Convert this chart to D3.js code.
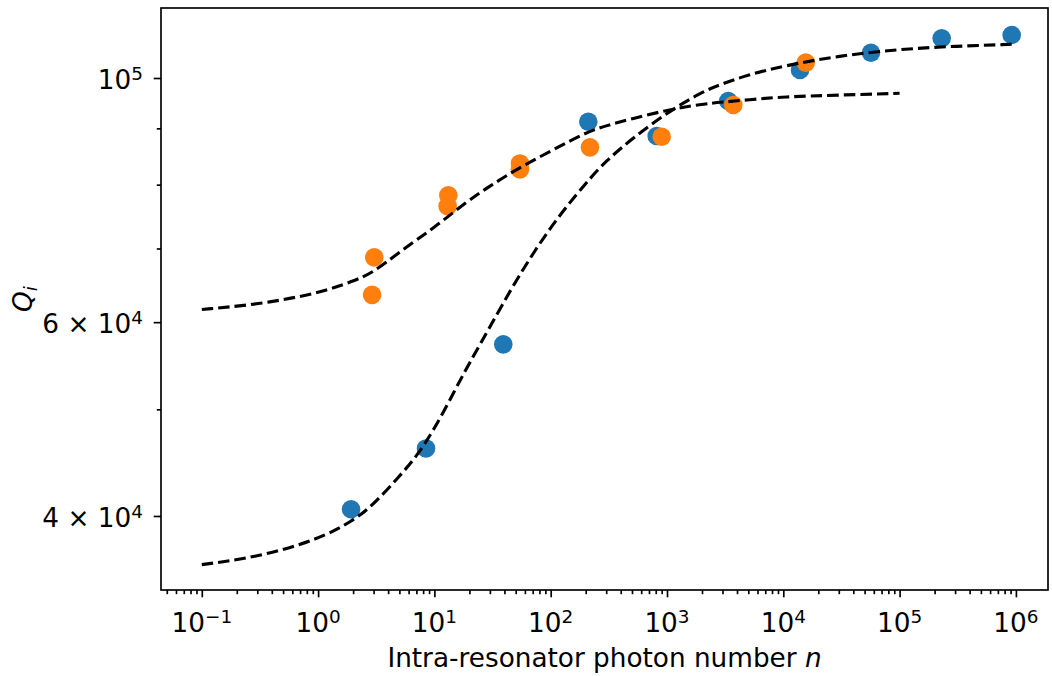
<!DOCTYPE html>
<html>
<head>
<meta charset="utf-8">
<script src="https://cdn.jsdelivr.net/npm/d3@7"></script>
<style>
  html, body { margin: 0; padding: 0; background: #fff; }
  svg { display: block; font-family: "DejaVu Sans", sans-serif; }
</style>
</head>
<body>
<svg id="chart" width="1052" height="676"></svg>
<script>
// ---- data ----
const blueN = [1.92, 8.47, 39.1, 210.5, 815, 3365, 13920, 56720, 230000, 920000];
const blueQ = [40570, 46070, 57280, 91260, 88570, 95300, 101700, 105430, 108670, 109410];

const orangeN = [2.91, 3.04, 13.0, 13.17, 54.4, 54.4, 217.5, 900, 3715, 15600];
const orangeQ = [63530, 68710, 76480, 78250, 82600, 83630, 86490, 88430, 94510, 103260];

// fitted curve for blue series
const fitBlueN = [0.1, 0.3, 1, 2, 3, 5, 7, 10, 15, 20, 30, 50, 100, 200, 300, 500, 1000, 2000, 3000, 5000, 1e4, 3e4, 1e5, 3e5, 9.2e5];
const fitBlueQ = [36130, 36690, 38070, 39590, 40960, 43470, 45270, 47970, 52030, 55100, 59380, 65460, 73380, 80260, 84140, 88050, 93010, 97160, 98810, 100670, 102560, 104760, 106220, 106880, 107300];

// fitted curve for orange series
const fitOrangeN = [0.1, 0.3, 1, 2, 3, 5, 10, 20, 30, 50, 100, 200, 300, 500, 1000, 2000, 3000, 5000, 1e4, 3e4, 1e5];
const fitOrangeQ = [61620, 62250, 63710, 65360, 66590, 69500, 73130, 77550, 79740, 82550, 85820, 89240, 90510, 91830, 93520, 94690, 95080, 95540, 96160, 96490, 96850];

const xMajorExp = [-1, 0, 1, 2, 3, 4, 5, 6];
const yMajorTicks = [40000, 60000, 100000];
const yMajorLabels = [["4 × 10", "4"], ["6 × 10", "4"], ["10", "5"]];
const yMinorTicks = [50000, 70000, 80000, 90000];

const xLabel = "Intra-resonator photon number ";
const xLabelVar = "n";

// ---- layout ----
const L = 161, R = 1048, T = 8, B = 590;
const svg = d3.select("#chart");

const x = d3.scaleLog().domain([Math.pow(10, -1.3508), Math.pow(10, 6.276)]).range([L, R]);
const y = d3.scaleLog().domain([Math.pow(10, 4.5348), Math.pow(10, 5.0636)]).range([B, T]);

const xMajor = xMajorExp.map(e => Math.pow(10, e));
const xMinor = [];
for (let e = -2; e <= 6; e++) for (let m = 2; m <= 9; m++) {
  const v = m * Math.pow(10, e);
  if (v >= x.domain()[0] && v <= x.domain()[1]) xMinor.push(v);
}

const tickW = 1.67;
const gxm = svg.append("g").attr("transform", `translate(0,${B})`)
  .call(d3.axisBottom(x).tickValues(xMinor).tickSize(4.2).tickFormat(""));
const gx = svg.append("g").attr("transform", `translate(0,${B})`)
  .call(d3.axisBottom(x).tickValues(xMajor).tickSize(7.3).tickFormat(""));
const gym = svg.append("g").attr("transform", `translate(${L},0)`)
  .call(d3.axisLeft(y).tickValues(yMinorTicks).tickSize(4.2).tickFormat(""));
const gy = svg.append("g").attr("transform", `translate(${L},0)`)
  .call(d3.axisLeft(y).tickValues(yMajorTicks).tickSize(7.3).tickFormat(""));
[gxm, gx, gym, gy].forEach(g => {
  g.select(".domain").remove();
  g.selectAll(".tick line").attr("stroke", "#000").attr("stroke-width", tickW);
});

const fs = 26.3;
const supFs = fs * 0.7;
// x tick labels
xMajorExp.forEach(e => {
  const t = svg.append("text")
    .attr("x", x(Math.pow(10, e)))
    .attr("y", 632)
    .attr("text-anchor", "middle")
    .attr("font-size", fs)
    .attr("fill", "#000");
  t.append("tspan").text("10");
  t.append("tspan").attr("font-size", supFs).attr("dy", -9)
    .text(e < 0 ? "\u2212" + Math.abs(e) : String(e));
});

// y tick labels
yMajorTicks.forEach((v, i) => {
  const t = svg.append("text")
    .attr("x", 143)
    .attr("y", y(v) + 11)
    .attr("text-anchor", "end")
    .attr("font-size", fs)
    .attr("fill", "#000");
  t.append("tspan").text(yMajorLabels[i][0]);
  t.append("tspan").attr("font-size", supFs).attr("dy", -9).text(yMajorLabels[i][1]);
});

// axis labels
const xl = svg.append("text")
  .attr("x", (L + R) / 2).attr("y", 667)
  .attr("text-anchor", "middle").attr("font-size", fs).attr("fill", "#000");
xl.append("tspan").text(xLabel);
xl.append("tspan").attr("font-style", "italic").text(xLabelVar);

const yl = svg.append("text")
  .attr("transform", `translate(32,${(T + B) / 2}) rotate(-90)`)
  .attr("text-anchor", "middle").attr("font-size", fs).attr("fill", "#000");
yl.append("tspan").attr("font-style", "italic").text("Q");
yl.append("tspan").attr("font-style", "italic").attr("font-size", supFs).attr("dy", 5).text("i");

// clip
svg.append("clipPath").attr("id", "clip").append("rect")
  .attr("x", L).attr("y", T).attr("width", R - L).attr("height", B - T);
const plot = svg.append("g").attr("clip-path", "url(#clip)");

const r = 9.3;
plot.append("g").selectAll("circle").data(blueN.map((n, i) => [n, blueQ[i]])).join("circle")
  .attr("cx", d => x(d[0])).attr("cy", d => y(d[1])).attr("r", r).attr("fill", "#1f77b4");
plot.append("g").selectAll("circle").data(orangeN.map((n, i) => [n, orangeQ[i]])).join("circle")
  .attr("cx", d => x(d[0])).attr("cy", d => y(d[1])).attr("r", r).attr("fill", "#ff7f0e");

const line = d3.line().x(d => x(d[0])).y(d => y(d[1])).curve(d3.curveBasis);
[[fitBlueN, fitBlueQ], [fitOrangeN, fitOrangeQ]].forEach(([ns, qs]) => {
  plot.append("path")
    .datum(ns.map((n, i) => [n, qs[i]]))
    .attr("d", line)
    .attr("fill", "none")
    .attr("stroke", "#000")
    .attr("stroke-width", 3.1)
    .attr("stroke-dasharray", "11.5 5");
});

// frame
svg.append("rect").attr("x", L).attr("y", T).attr("width", R - L).attr("height", B - T)
  .attr("fill", "none").attr("stroke", "#000").attr("stroke-width", 1.67);
</script>
</body>
</html>
